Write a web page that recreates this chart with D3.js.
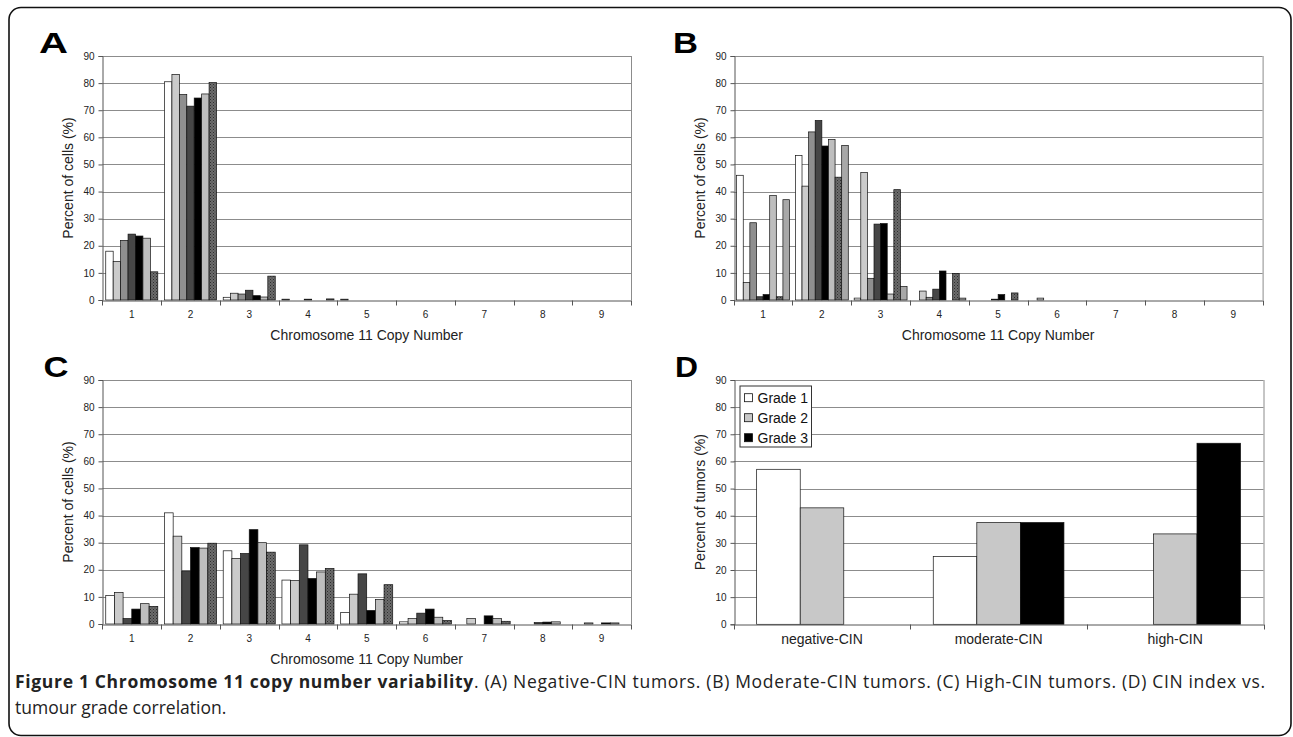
<!DOCTYPE html>
<meta charset="utf-8">
<style>
body { margin: 0; background: #fff; }
svg { display: block; }
.grid line { stroke: #8c8c8c; stroke-width: 1px; }
.tick-label { font-family: "Liberation Sans", Arial, sans-serif; font-size: 10px; fill: #222; }
.axis-title { font-family: "Liberation Sans", Arial, sans-serif; font-size: 14px; fill: #222; }
.panel-letter { font-family: "Liberation Sans", Arial, sans-serif; font-size: 30px; font-weight: bold; fill: #000; }
.legend-text { font-family: "Liberation Sans", Arial, sans-serif; font-size: 14px; fill: #111; }
.caption { font-family: "Open Sans", "Noto Sans", sans-serif; font-size: 17.5px; fill: #222; }
</style>
<body>
<script src="https://d3js.org/d3.v7.min.js" charset="utf-8"></script>
<script>

// copy number categories shared by panels A-C
var copyNumbers = ["1", "2", "3", "4", "5", "6", "7", "8", "9"];
var yTicks = [0, 10, 20, 30, 40, 50, 60, 70, 80, 90];

// Panel A: negative-CIN tumours (7 tumours)
var a1 = [18.0, 80.5, 1.0, 0.3, 0.3, 0, 0, 0, 0];
var a2 = [14.2, 83.2, 2.5, 0, 0, 0, 0, 0, 0];
var a3 = [22.0, 75.8, 2.2, 0, 0, 0, 0, 0, 0];
var a4 = [24.3, 71.5, 3.6, 0.3, 0, 0, 0, 0, 0];
var a5 = [23.6, 74.5, 1.6, 0, 0, 0, 0, 0, 0];
var a6 = [22.8, 76.0, 1.1, 0, 0, 0, 0, 0, 0];
var a7 = [10.4, 80.2, 8.8, 0.4, 0, 0, 0, 0, 0];

// Panel B: moderate-CIN tumours (8 tumours)
var b1 = [46.0, 53.3, 0.7, 0, 0, 0, 0, 0, 0];
var b2 = [6.5, 42.0, 47.0, 3.3, 0, 0.7, 0, 0, 0];
var b3 = [28.5, 62.0, 8.0, 1.0, 0, 0, 0, 0, 0];
var b4 = [1.2, 66.2, 28.0, 4.0, 0.3, 0, 0, 0, 0];
var b5 = [2.0, 56.8, 28.2, 10.7, 2.0, 0, 0, 0, 0];
var b6 = [38.5, 59.2, 2.2, 0, 0, 0, 0, 0, 0];
var b7 = [1.2, 45.3, 40.7, 9.8, 2.6, 0, 0, 0, 0];
var b8 = [37.0, 57.0, 5.0, 0.7, 0, 0, 0, 0, 0];

// Panel C: high-CIN tumours (6 tumours)
var c1 = [10.5, 41.0, 27.0, 16.2, 4.2, 0.8, 0, 0, 0];
var c2 = [11.6, 32.4, 24.2, 16.0, 11.0, 2.0, 2.0, 0, 0.4];
var c3 = [2.0, 19.5, 26.0, 29.2, 18.5, 4.0, 0, 0.5, 0];
var c4 = [5.5, 28.2, 34.8, 16.8, 5.0, 5.5, 3.0, 0.7, 0.4];
var c5 = [7.5, 28.0, 30.0, 19.2, 9.0, 2.5, 2.0, 0.8, 0.4];
var c6 = [6.5, 29.8, 26.5, 20.5, 14.5, 1.3, 1.0, 0, 0];

// Panel D: CIN index vs grade
var cinGroups = ["negative-CIN", "moderate-CIN", "high-CIN"];
var gradeNames = ["Grade 1", "Grade 2", "Grade 3"];
var grade1 = [57.1, 25.0, 0];
var grade2 = [42.9, 37.5, 33.3];
var grade3 = [0, 37.5, 66.7];

var width = 1293, height = 737;

var svg = d3.select("body").append("svg")
    .attr("width", width)
    .attr("height", height);

// dotted texture used by the last tumour in A-C
var defs = svg.append("defs");
var pat = defs.append("pattern")
    .attr("id", "hatch")
    .attr("width", 3).attr("height", 3)
    .attr("patternUnits", "userSpaceOnUse");
pat.append("rect").attr("width", 3).attr("height", 3).attr("fill", "#6c6c6c");
pat.append("rect").attr("width", 1).attr("height", 1).attr("fill", "#2e2e2e");
pat.append("rect").attr("x", 1.5).attr("y", 1.5).attr("width", 1).attr("height", 1).attr("fill", "#3c3c3c");

// outer frame
svg.append("rect")
    .attr("x", 9).attr("y", 7.5)
    .attr("width", 1282).attr("height", 728)
    .attr("rx", 12)
    .attr("fill", "none")
    .attr("stroke", "#111")
    .attr("stroke-width", 1.6);

function drawPanel(opt) {
  var g = svg.append("g");
  var x = d3.scaleBand()
      .domain(opt.categories)
      .range([opt.left, opt.right])
      .paddingInner(opt.pad)
      .paddingOuter(opt.pad / 2);
  var x1 = d3.scaleBand()
      .domain(d3.range(opt.series.length))
      .range([0, x.bandwidth()]);
  var y = d3.scaleLinear()
      .domain([0, 90])
      .range([opt.bottom, opt.top]);

  // gridlines
  g.append("g").attr("class", "grid")
    .selectAll("line")
    .data(yTicks.slice(1))
    .enter().append("line")
      .attr("x1", opt.left).attr("x2", opt.right)
      .attr("y1", d => Math.round(y(d)) + 0.5)
      .attr("y2", d => Math.round(y(d)) + 0.5);
  g.append("line")
      .attr("x1", opt.right + 0.5).attr("x2", opt.right + 0.5)
      .attr("y1", opt.top).attr("y2", opt.bottom)
      .style("stroke", "#8c8c8c");

  // bars
  var rows = [];
  opt.series.forEach(function(vals, si) {
    vals.forEach(function(v, ci) {
      rows.push({ s: si, c: opt.categories[ci], v: v });
    });
  });
  g.append("g").selectAll("rect")
    .data(rows.filter(d => d.v > 0))
    .enter().append("rect")
      .attr("x", d => x(d.c) + x1(d.s))
      .attr("y", d => y(d.v))
      .attr("width", x1.bandwidth())
      .attr("height", d => y(0) - y(d.v))
      .attr("fill", d => opt.colors[d.s])
      .attr("stroke", "#111")
      .attr("stroke-width", 0.7);

  // axes
  var yAxis = d3.axisLeft(y).tickValues(yTicks).tickSize(4).tickPadding(4);
  var ya = g.append("g")
      .attr("transform", "translate(" + (Math.round(opt.left) + 0.5) + ",0)")
      .call(yAxis);
  ya.select(".domain").attr("stroke", "#555");
  ya.selectAll(".tick line").attr("stroke", "#555");
  ya.selectAll("text").attr("class", "tick-label").attr("font-family", null).attr("font-size", null).attr("fill", null);

  var xAxis = d3.axisBottom(x).tickSize(0).tickPadding(10);
  var xa = g.append("g")
      .attr("transform", "translate(0," + (Math.round(opt.bottom) + 0.5) + ")")
      .call(xAxis);
  xa.select(".domain").attr("stroke", "#555");
  xa.selectAll("text").attr("class", opt.catClass).attr("font-family", null).attr("font-size", null).attr("fill", null);
  // Excel style ticks between the categories
  var bounds = opt.categories.map(c => x(c) - x.step() * opt.pad / 2);
  bounds.push(opt.right);
  xa.selectAll(".between")
    .data(bounds)
    .enter().append("line")
      .attr("x1", d => Math.round(d) + 0.5).attr("x2", d => Math.round(d) + 0.5)
      .attr("y1", 0).attr("y2", 5)
      .attr("stroke", "#555");

  // titles
  g.append("text")
      .attr("class", "axis-title")
      .attr("transform", "translate(" + (opt.left - 34) + "," + ((opt.top + opt.bottom) / 2) + ") rotate(-90)")
      .attr("text-anchor", "middle")
      .attr("dominant-baseline", "central")
      .text(opt.yTitle);
  if (opt.xTitle) {
    g.append("text")
        .attr("class", "axis-title")
        .attr("x", (opt.left + opt.right) / 2)
        .attr("y", opt.bottom + 40)
        .attr("text-anchor", "middle")
        .text(opt.xTitle);
  }
  g.append("text")
      .attr("class", "panel-letter")
      .attr("x", opt.letterX)
      .attr("y", opt.top - 3)
      .attr("textLength", opt.letterW)
      .attr("lengthAdjust", "spacingAndGlyphs")
      .text(opt.letter);
  return { g: g, x: x, y: y };
}

var cellTitle = "Percent of cells (%)";
var xTitle = "Chromosome 11 Copy Number";

drawPanel({
  letter: "A", letterX: 39, letterW: 29,
  left: 102.4, right: 631, top: 56, bottom: 300, pad: 0.114,
  categories: copyNumbers, series: [a1, a2, a3, a4, a5, a6, a7],
  colors: ["#ffffff", "#cbcbcb", "#8f8f8f", "#464646", "#000000", "#bebebe", "url(#hatch)"],
  yTitle: cellTitle, xTitle: xTitle, catClass: "tick-label"
});

drawPanel({
  letter: "B", letterX: 673, letterW: 25,
  left: 733.7, right: 1262.6, top: 56, bottom: 300, pad: 0.1,
  categories: copyNumbers, series: [b1, b2, b3, b4, b5, b6, b7, b8],
  colors: ["#ffffff", "#cbcbcb", "#8f8f8f", "#464646", "#000000", "#bebebe", "url(#hatch)", "#a8a8a8"],
  yTitle: cellTitle, xTitle: xTitle, catClass: "tick-label"
});

drawPanel({
  letter: "C", letterX: 43.5, letterW: 25,
  left: 102.4, right: 631, top: 380, bottom: 624, pad: 0.114,
  categories: copyNumbers, series: [c1, c2, c3, c4, c5, c6],
  colors: ["#ffffff", "#cbcbcb", "#464646", "#000000", "#bebebe", "url(#hatch)"],
  yTitle: cellTitle, xTitle: xTitle, catClass: "tick-label"
});

drawPanel({
  letter: "D", letterX: 675, letterW: 23,
  left: 733.7, right: 1263.5, top: 380, bottom: 624.3, pad: 0.26,
  categories: cinGroups, series: [grade1, grade2, grade3],
  colors: ["#ffffff", "#c8c8c8", "#000000"],
  yTitle: "Percent of tumors (%)", xTitle: null, catClass: "axis-title"
});

// legend for panel D
var gradeColors = ["#ffffff", "#c8c8c8", "#000000"];
var leg = svg.append("g").attr("transform", "translate(740,386)");
leg.append("rect")
    .attr("width", 71.5).attr("height", 61)
    .attr("fill", "#fff")
    .attr("stroke", "#333")
    .attr("stroke-width", 1);
var item = leg.selectAll(".item")
    .data(gradeNames)
  .enter().append("g")
    .attr("transform", (d, i) => "translate(4," + (11.7 + i * 20) + ")");
item.append("rect")
    .attr("x", 0.5).attr("y", -4)
    .attr("width", 8).attr("height", 8)
    .attr("fill", (d, i) => gradeColors[i])
    .attr("stroke", "#111")
    .attr("stroke-width", 0.8);
item.append("text")
    .attr("class", "legend-text")
    .attr("x", 13.5)
    .attr("dy", "0.36em")
    .text(d => d);

// caption
var cap = svg.append("text")
    .attr("class", "caption")
    .attr("x", 15)
    .attr("y", 688)
    .attr("textLength", 1250)
    .attr("lengthAdjust", "spacing");
cap.append("tspan").attr("font-weight", "bold").text("Figure 1 Chromosome 11 copy number variability");
cap.append("tspan").text(". (A) Negative-CIN tumors. (B) Moderate-CIN tumors. (C) High-CIN tumors. (D) CIN index vs.");
svg.append("text")
    .attr("class", "caption")
    .attr("x", 15)
    .attr("y", 714)
    .text("tumour grade correlation.");

</script>
</body>
